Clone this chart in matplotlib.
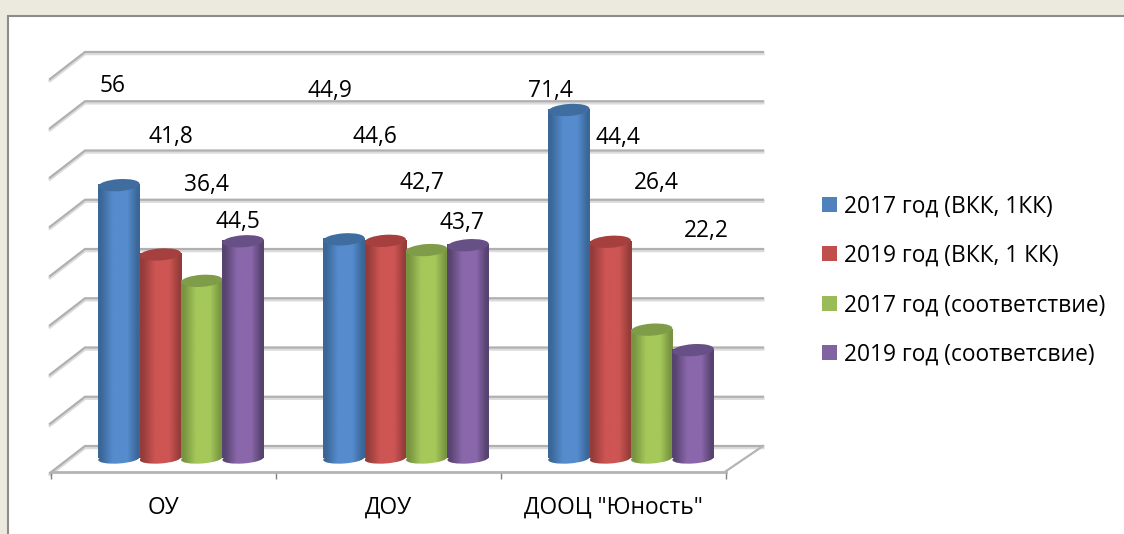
import numpy as np
import matplotlib
matplotlib.use("Agg")
import matplotlib.pyplot as plt
from matplotlib.colors import LinearSegmentedColormap
from matplotlib.patches import Patch, PathPatch, Rectangle
from matplotlib.path import Path
from matplotlib.transforms import Affine2D

plt.rcParams['font.family'] = ['Open Sans', 'DejaVu Sans']

W, H = 1124, 534

categories = ['ОУ', 'ДОУ', 'ДООЦ "Юность"']
series_names = ['2017 год (ВКК, 1КК)', '2019 год (ВКК, 1 КК)',
                '2017 год (соответствие)', '2019 год (соответсвие)']
vkk_2017 = [56, 44.9, 71.4]
vkk_2019 = [41.8, 44.6, 44.4]
sootv_2017 = [36.4, 42.7, 26.4]
sootv_2019 = [44.5, 43.7, 22.2]
grid_values = [0, 10, 20, 30, 40, 50, 60, 70, 80]

# label positions in the picture are detached from the bars, pixels (x, y)
label_pos = [[(113, 86), (330, 91), (550, 91)],
             [(171, 137), (375, 137), (618, 138)],
             [(206, 185), (422, 183), (656, 183)],
             [(238, 222), (462, 223), (706, 231)]]

legend_colors = ['#4f81bd', '#c0504d', '#9bbb59', '#8064a2']
# edge, centre, cap colours of the cylinders
cyl_colors = [('#3a6797', '#568cce', '#3f6d9f'),
              ('#953c3a', '#cd5553', '#a5403e'),
              ('#779440', '#a5c85a', '#7f9c48'),
              ('#57436f', '#8a67ab', '#675086')]


def px_axes(x0, y0, x1, y1):
    return fig.add_axes([x0 / W, 1 - y1 / H, (x1 - x0) / W, (y1 - y0) / H])


def ellipse_path(ax, x, y, w_px, h_px, angle=4):
    cx, cy = ax.transData.transform((x, y))
    tr = Affine2D().scale(w_px / 2, h_px / 2).rotate_deg(angle).translate(cx, cy)
    return Path.unit_circle().transformed(tr)


def draw_cylinder(ax, bar, colors):
    edge, mid, cap = colors
    cmap = LinearSegmentedColormap.from_list(
        'cyl', [(0, edge), (0.06, edge), (0.36, mid), (0.7, mid), (0.95, edge), (1, edge)])
    x0, w, v = bar.get_x(), bar.get_width(), bar.get_height()
    grad = np.linspace(0, 1, 64).reshape(1, -1)
    w_px = ax.transData.transform((x0 + w, 0))[0] - ax.transData.transform((x0, 0))[0]
    xc = x0 + w / 2
    bar.set_visible(False)
    # body
    ax.imshow(grad, cmap=cmap, extent=(x0, x0 + w, 0, v), aspect='auto', zorder=3)
    # round bottom
    im2 = ax.imshow(grad, cmap=cmap, extent=(x0, x0 + w, -2, 2), aspect='auto', zorder=3)
    clip = PathPatch(ellipse_path(ax, xc, 0, w_px, 10), transform=Affine2D())
    im2.set_clip_path(clip)
    # top cap
    top = PathPatch(ellipse_path(ax, xc, v, w_px, 12), facecolor=cap, edgecolor='none',
                    transform=Affine2D(), zorder=3)
    top.set_clip_on(False)
    ax.add_artist(top)


fig = plt.figure(figsize=(W / 100, H / 100), dpi=100, facecolor='#ece9df')
fig.add_artist(Rectangle((8 / W, -0.1), 1.2, 1.1 - 15.7 / H, transform=fig.transFigure,
                         facecolor='white', edgecolor='#8c8c88', linewidth=1.5, zorder=-1))

# back wall with the gridlines
back = px_axes(85, 52, 763, 446)
back.set_xlim(0, 1)
back.set_ylim(0, 80)
back.axis('off')
dx = 35 / 678
dy = 27 * 80 / 394
for v in grid_values:
    xs, ys = [-dx, 0, 1], [v - dy, v, v]
    back.plot(xs, [y - 0.35 for y in ys], color='#dcdcdc', lw=2.2, clip_on=False,
              solid_joinstyle='miter')
    back.plot(xs, ys, color='#b0b0b0', lw=1.6, clip_on=False, solid_joinstyle='miter')
back.plot([1, 1 - 37 / 678], [0, -dy * 0.93], color='#b4b4b4', lw=1.6, clip_on=False)

# bars, zero sits at mid depth of the floor, axes reach down to the front edge
y_min = -12.5 / 4.88
ax = px_axes(51, 68, 726, 471)
ax.patch.set_alpha(0)
ax.set_xlim(-0.5, 2.5)
ax.set_ylim(y_min, 80)
bar_w = 41.4 / 225
shift = 17.5 / 225
x = np.arange(len(categories))
all_series = [vkk_2017, vkk_2019, sootv_2017, sootv_2019]
for cat in range(len(categories)):
    for j, vals in enumerate(all_series):
        b = ax.bar(x[cat] + shift + (j - 1.5) * bar_w, vals[cat], bar_w, zorder=3)[0]
        ax.set_xlim(-0.5, 2.5)
        ax.set_ylim(y_min, 80)
        draw_cylinder(ax, b, cyl_colors[j])
        ax.set_xlim(-0.5, 2.5)
        ax.set_ylim(y_min, 80)

for s in ['left', 'right', 'top']:
    ax.spines[s].set_visible(False)
ax.spines['bottom'].set_position(('outward', 0.7))
ax.spines['bottom'].set_color('#b4b4b4')
ax.spines['bottom'].set_linewidth(2)
ax.set_yticks([])
ax.set_xticks(x)
ax.set_xticklabels(categories, fontsize=16.4, color='black')
ax.tick_params(axis='x', which='major', length=0, pad=17)
ax.set_xticks([-0.5, 0.5, 1.5, 2.5], minor=True)
ax.tick_params(axis='x', which='minor', length=5, width=1, color='#808080')

for j, vals in enumerate(all_series):
    for cat, v in enumerate(vals):
        px, py = label_pos[j][cat]
        fig.text(px / W, 1 - py / H, str(v).replace('.', ','), fontsize=16.4,
                 ha='center', va='center', color='black')

handles = [Patch(facecolor=c, edgecolor='none', label=n)
           for c, n in zip(legend_colors, series_names)]
fig.legend(handles=handles, loc='center left', bbox_to_anchor=(822 / W, 1 - 280.5 / H),
           frameon=False, fontsize=16.4, handlelength=0.66, handleheight=0.66,
           handletextpad=0.31, labelspacing=1.12, borderpad=0, borderaxespad=0)

fig.savefig('out.png', dpi=100, facecolor=fig.get_facecolor())
